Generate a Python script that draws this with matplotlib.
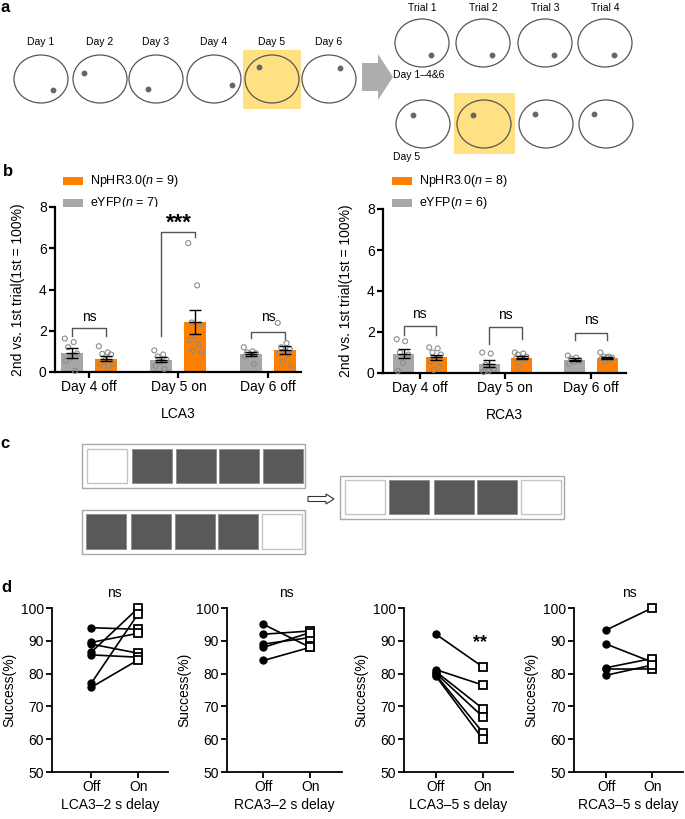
import numpy as np
import matplotlib
matplotlib.use("Agg")
import matplotlib.pyplot as plt
from matplotlib.patches import Ellipse, Rectangle, FancyArrow

plt.rcParams['font.family'] = ['Liberation Sans', 'DejaVu Sans']
plt.rcParams['mathtext.fontset'] = 'custom'
plt.rcParams['mathtext.rm'] = 'Liberation Sans'
plt.rcParams['mathtext.it'] = 'Liberation Sans:italic'

W, H = 685, 819
GRAY = '#A7A7A9'
ORANGE = '#FF7F00'
YELLOW = '#FFE083'

# ---------------- data ----------------
# panel a schematic
day_labels = ['Day 1', 'Day 2', 'Day 3', 'Day 4', 'Day 5', 'Day 6']
day_cx = [41, 100, 156, 214, 272, 329]
day_dot = [(53, 90), (84, 73), (148, 89), (232, 85), (259, 67), (340, 68)]
trial_labels = ['Trial 1', 'Trial 2', 'Trial 3', 'Trial 4']
trial_cx = [422, 483, 545, 605]
trial_dot_row1 = [(431, 55), (492, 55), (554, 55), (614, 55)]
trial_dot_row2 = [(413, 115), (473, 115), (535, 114), (594, 114)]

# panel b
groups = ['Day 4 off', 'Day 5 on', 'Day 6 off']
lca3_eyfp_mean = [0.92, 0.60, 0.87]
lca3_eyfp_sem = [0.22, 0.12, 0.09]
lca3_nphr_mean = [0.65, 2.42, 1.05]
lca3_nphr_sem = [0.12, 0.58, 0.20]
lca3_eyfp_pts = [[1.62, 1.45, 1.2, 0.9, 0.7, 0.55, 0.05],
                 [1.05, 0.85, 0.75, 0.6, 0.5, 0.3, 0.15],
                 [1.2, 1.0, 0.95, 0.9, 0.85, 0.75, 0.4]]
lca3_nphr_pts = [[1.25, 0.95, 0.88, 0.85, 0.6, 0.4, 0.3, 0.3, 0.35],
                 [6.25, 4.2, 2.4, 2.3, 1.75, 1.55, 1.35, 1.05, 0.95],
                 [2.38, 1.4, 1.2, 1.1, 1.0, 0.9, 0.85, 0.5, 0.3]]
rca3_eyfp_mean = [0.95, 0.45, 0.65]
rca3_eyfp_sem = [0.23, 0.18, 0.08]
rca3_nphr_mean = [0.76, 0.75, 0.75]
rca3_nphr_sem = [0.14, 0.08, 0.05]
rca3_eyfp_pts = [[1.65, 1.55, 1.0, 0.9, 0.5, 0.1],
                 [1.0, 0.95, 0.4, 0.2, 0.1, 0.05],
                 [0.85, 0.75, 0.7, 0.6, 0.55, 0.45]]
rca3_nphr_pts = [[1.25, 1.2, 1.0, 0.9, 0.7, 0.55, 0.3, 0.15],
                 [1.0, 0.95, 0.9, 0.8, 0.75, 0.7, 0.6, 0.3],
                 [1.0, 0.8, 0.8, 0.75, 0.75, 0.7, 0.65, 0.55]]
# brackets: (horizontal y, left leg end, right leg end, label, label y)
lca3_brackets = [(2.14, 1.75, 1.75, 'ns', 2.67),
                 (6.8, 1.75, 6.55, '***', 7.2),
                 (1.94, 1.65, 1.6, 'ns', 2.67)]
rca3_brackets = [(2.3, 1.85, 1.85, 'ns', 2.9),
                 (2.25, 1.4, 1.65, 'ns', 2.83),
                 (1.97, 1.6, 1.6, 'ns', 2.57)]

# panel c schematic (1 = dark square)
c_top = [0, 1, 1, 1, 1]
c_bottom = [1, 1, 1, 1, 0]
c_result = [0, 1, 1, 1, 0]

# panel d
lca3_2s_off = [94, 89.5, 89, 86.5, 85.7, 77, 75.8]
lca3_2s_on = [93.5, 92.3, 86.2, 100, 85, 98.3, 84.2]
rca3_2s_off = [95, 92, 89, 88, 84]
rca3_2s_on = [88, 93, 91, 92.5, 88]
lca3_5s_off = [92, 81.2, 80.6, 80.1, 79.6, 79.2]
lca3_5s_on = [82, 76.5, 69.3, 66.8, 62, 60]
rca3_5s_off = [93.3, 89, 81.8, 81.3, 79.5]
rca3_5s_on = [100, 83.5, 84.6, 81.3, 82.6]

fig = plt.figure(figsize=(W / 100, H / 100), dpi=100)

# ---------------- overlay (pixel coordinates) ----------------
ov = fig.add_axes([0, 0, 1, 1])
ov.set_xlim(0, W)
ov.set_ylim(H, 0)
ov.axis('off')

def circle(cx, cy):
    ov.add_patch(Ellipse((cx, cy), 54, 48, fill=False, ec='#555555', lw=0.9, zorder=3))

# panel a
ov.add_patch(Rectangle((243, 50), 58, 59, fc=YELLOW, ec='none', zorder=1))
for lab, cx in zip(day_labels, day_cx):
    ov.text(cx, 42, lab, ha='center', va='center', fontsize=7.5)
    circle(cx, 79)
ov.plot([d[0] for d in day_dot], [d[1] for d in day_dot], 'o', color='#666666', ms=3.2, zorder=4)
ov.add_patch(FancyArrow(362, 77, 31, 0, width=28, head_width=46, head_length=15,
                        length_includes_head=True, fc='#ADADAD', ec='none'))
ov.add_patch(Rectangle((454, 93), 61, 61, fc=YELLOW, ec='none', zorder=1))
for lab, cx in zip(trial_labels, trial_cx):
    ov.text(cx, 8, lab, ha='center', va='center', fontsize=7.5)
    circle(cx, 43)
    circle(cx + 1, 124)
ov.plot([d[0] for d in trial_dot_row1], [d[1] for d in trial_dot_row1], 'o', color='#666666', ms=3.2, zorder=4)
ov.plot([d[0] for d in trial_dot_row2], [d[1] for d in trial_dot_row2], 'o', color='#666666', ms=3.2, zorder=4)
ov.text(393, 75, 'Day 1–4&6', ha='left', va='center', fontsize=7.5)
ov.text(393, 157, 'Day 5', ha='left', va='center', fontsize=7.5)

# panel labels
for lab, x, y in [('a', 5, 7), ('b', 8, 172), ('c', 5, 443), ('d', 6, 587)]:
    ov.text(x, y, lab, ha='center', va='center', fontsize=12, fontweight='bold')

# legends of panel b
for x0, n_np, n_ey in [(63, 9, 7), (392, 8, 6)]:
    ov.add_patch(Rectangle((x0, 177), 20, 8, fc=ORANGE, ec='none'))
    ov.add_patch(Rectangle((x0, 199), 20, 8, fc=GRAY, ec='none'))
    ov.text(x0 + 27, 181, 'NpHR3.0($n$ = %d)' % n_np, ha='left', va='center', fontsize=9)
    ov.text(x0 + 27, 203, 'eYFP($n$ = %d)' % n_ey, ha='left', va='center', fontsize=9)

# panel c
def strip(x0, y0, w, h, xs, ys, hs, pattern):
    ov.add_patch(Rectangle((x0, y0), w, h, fill=False, ec='#A8A8A8', lw=1.0))
    for sx, p in zip(xs, pattern):
        if p:
            ov.add_patch(Rectangle((sx, ys), 40, hs, fc='#595959', ec='#8a8a8a', lw=0.6))
        else:
            ov.add_patch(Rectangle((sx, ys), 40, hs, fc='white', ec='#C4C4C4', lw=1.0))

strip(82, 444, 223, 44, [87, 132, 176, 219, 263], 449, 34, c_top)
strip(82, 510, 223, 44, [86, 131, 175, 218, 262], 514, 35, c_bottom)
strip(340, 476, 224, 43, [345, 389, 434, 477, 521], 480, 34, c_result)
ov.add_patch(FancyArrow(308, 499, 26, 0, width=5, head_width=10, head_length=8,
                        length_includes_head=True, fc='white', ec='#333333', lw=0.8))

# ---------------- panel b ----------------
def style(ax, lw=1.4):
    for s in ['top', 'right']:
        ax.spines[s].set_visible(False)
    for s in ['left', 'bottom']:
        ax.spines[s].set_linewidth(lw)
    ax.tick_params(direction='out', length=4, width=lw, labelsize=10, pad=2)

def offsets(n):
    return ((np.arange(n) * 0.618) % 1 - 0.5) * 0.16

def bar_panel(rect, xlim, em, es, ep, nm, ns, npts, brackets, xlabel):
    ax = fig.add_axes(rect)
    x = np.arange(len(groups))
    ax.bar(x - 0.19, em, 0.245, color=GRAY, zorder=1)
    ax.bar(x + 0.19, nm, 0.245, color=ORANGE, zorder=1)
    for i in range(len(groups)):
        for xc, pts in [(x[i] - 0.19, ep[i]), (x[i] + 0.19, npts[i])]:
            ax.scatter(xc + offsets(len(pts)), pts, s=13, facecolor='none',
                       edgecolor='#8C8C8C', linewidth=0.8, zorder=3, clip_on=False)
    ax.errorbar(x - 0.19, em, yerr=es, fmt='_', color='k', ms=9, mew=1,
                capsize=4.5, elinewidth=1, capthick=1, zorder=4)
    ax.errorbar(x + 0.19, nm, yerr=ns, fmt='_', color='k', ms=9, mew=1,
                capsize=4.5, elinewidth=1, capthick=1, zorder=4)
    for i, (yb, yl, yr, lab, ty) in enumerate(brackets):
        ax.plot([x[i] - 0.19, x[i] - 0.19, x[i] + 0.19, x[i] + 0.19],
                [yl, yb, yb, yr], color='#555555', lw=1, zorder=5)
        if lab == '***':
            ax.text(x[i], ty, lab, ha='center', va='center', fontsize=16, fontweight='bold')
        else:
            ax.text(x[i], ty, lab, ha='center', va='center', fontsize=10)
    ax.set_xlim(*xlim)
    ax.set_ylim(0, 8)
    ax.set_yticks([0, 2, 4, 6, 8])
    ax.set_xticks(x)
    ax.set_xticklabels(groups)
    style(ax, 1.6)
    ax.set_xlabel(xlabel, fontsize=10, labelpad=9)
    ax.set_ylabel('2nd vs. 1st trial(1st = 100%)', fontsize=10, labelpad=10)
    return ax

bar_panel([55 / W, 1 - 372 / H, 246 / W, 165 / H], (-0.38, 2.37),
          lca3_eyfp_mean, lca3_eyfp_sem, lca3_eyfp_pts,
          lca3_nphr_mean, lca3_nphr_sem, lca3_nphr_pts, lca3_brackets, 'LCA3')
bar_panel([383 / W, 1 - 373 / H, 243 / W, 164 / H], (-0.43, 2.41),
          rca3_eyfp_mean, rca3_eyfp_sem, rca3_eyfp_pts,
          rca3_nphr_mean, rca3_nphr_sem, rca3_nphr_pts, rca3_brackets, 'RCA3')

# ---------------- panel d ----------------
def pair_panel(left_px, width_px, xlim, off, on, xlabel, note=None, note_xy=None, note_bold=False):
    ax = fig.add_axes([left_px / W, 1 - 772 / H, width_px / W, 164 / H])
    for a, b in zip(off, on):
        ax.plot([0, 1], [a, b], color='k', lw=1.2, zorder=2, clip_on=False)
    ax.plot(np.zeros(len(off)), off, 'o', color='k', ms=5, zorder=3, clip_on=False)
    ax.plot(np.ones(len(on)), on, 's', mfc='white', mec='k', ms=5.5, mew=1.3, zorder=3, clip_on=False)
    ax.set_xlim(*xlim)
    ax.set_ylim(50, 100)
    ax.set_yticks([50, 60, 70, 80, 90, 100])
    ax.set_xticks([0, 1])
    ax.set_xticklabels(['Off', 'On'])
    style(ax, 1.3)
    ax.set_xlabel(xlabel, fontsize=10, labelpad=3)
    ax.set_ylabel('Success(%)', fontsize=10, labelpad=3)
    if note:
        ax.text(note_xy[0], note_xy[1], note, ha='center', va='center',
                fontsize=13 if note_bold else 10,
                fontweight='bold' if note_bold else 'normal', clip_on=False)
    return ax

pair_panel(52, 116, (-0.83, 1.63), lca3_2s_off, lca3_2s_on, 'LCA3–2 s delay', 'ns', (0.5, 104.6))
pair_panel(227, 115, (-0.78, 1.68), rca3_2s_off, rca3_2s_on, 'RCA3–2 s delay', 'ns', (0.5, 104.6))
pair_panel(404, 109, (-0.68, 1.64), lca3_5s_off, lca3_5s_on, 'LCA3–5 s delay', '**', (0.93, 89.6), True)
pair_panel(574, 109, (-0.7, 1.67), rca3_5s_off, rca3_5s_on, 'RCA3–5 s delay', 'ns', (0.5, 104.6))

fig.savefig('out.png', dpi=100)
